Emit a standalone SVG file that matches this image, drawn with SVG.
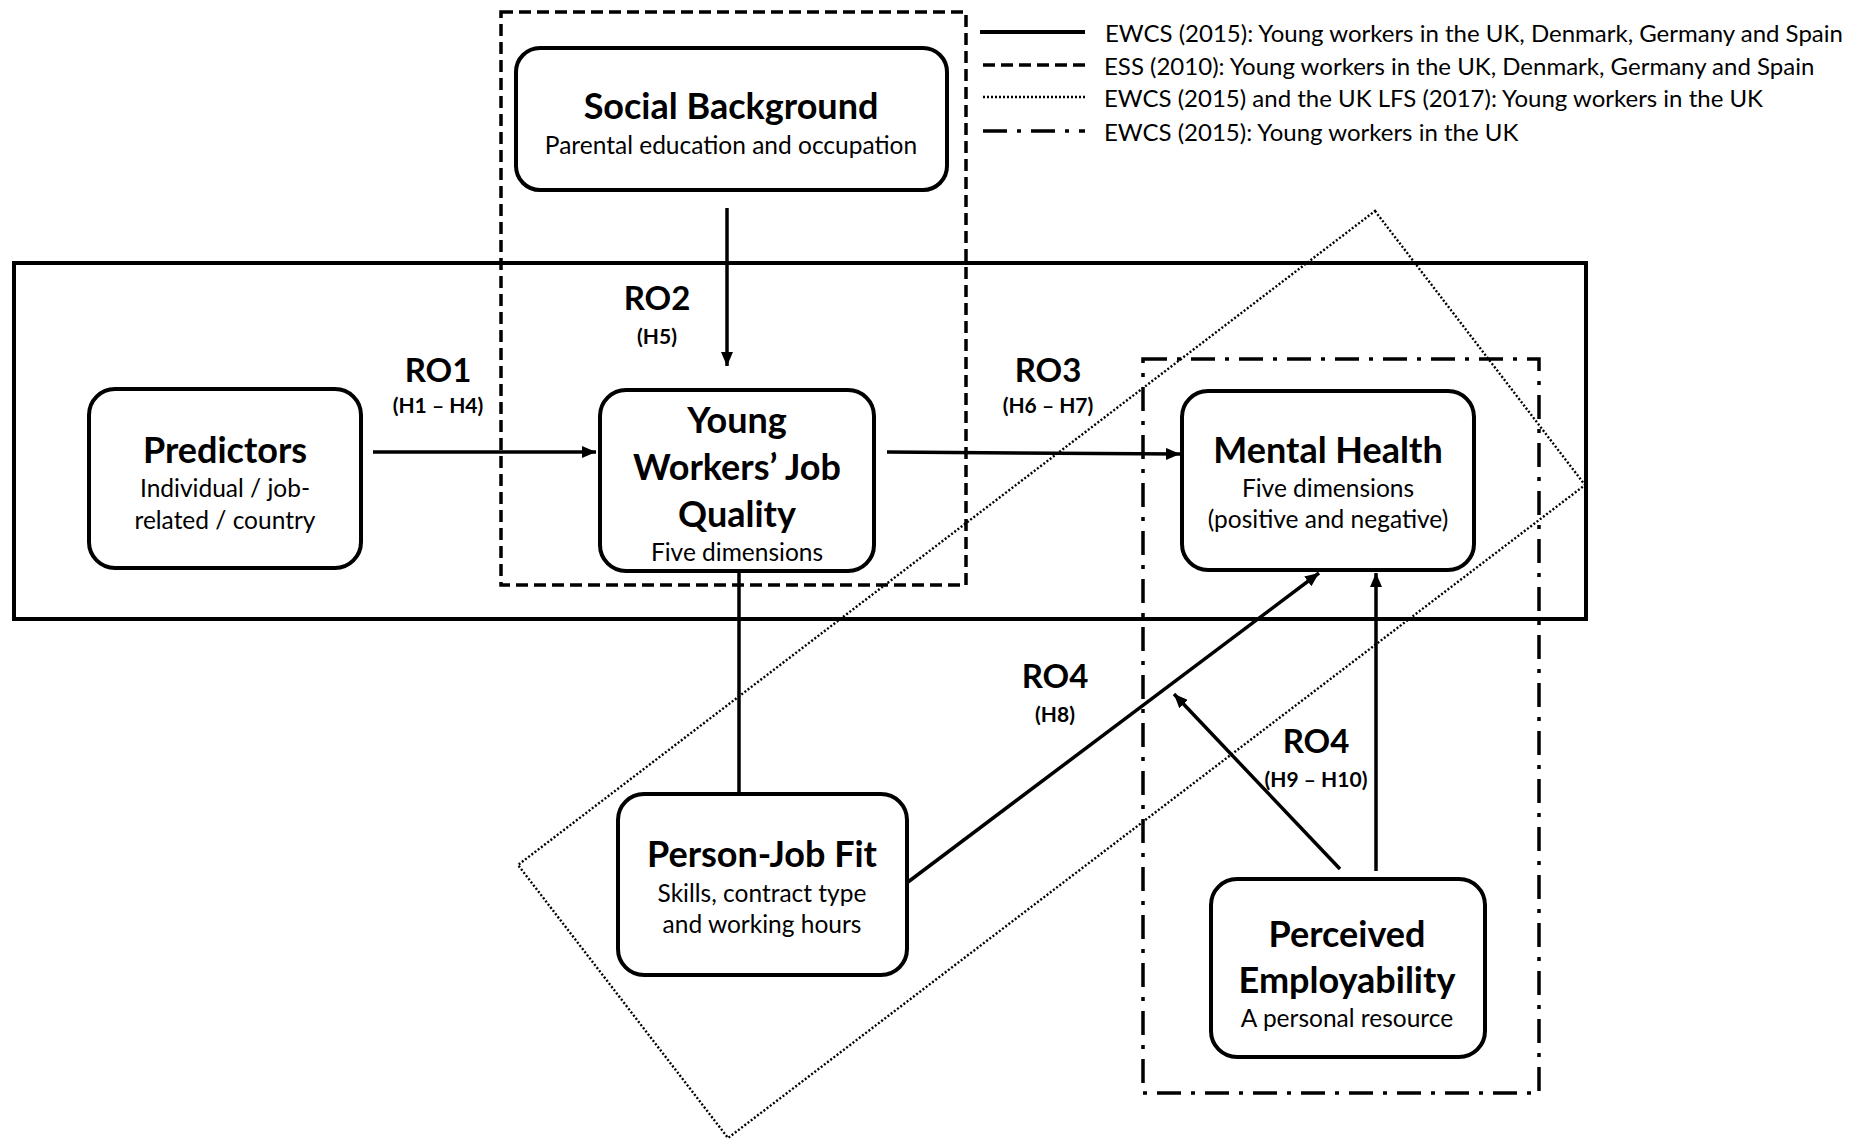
<svg xmlns="http://www.w3.org/2000/svg" width="1863" height="1141" viewBox="0 0 1863 1141">
<style>
.box{fill:#fff;stroke:#000;stroke-width:4}
.ttl{font-family:Lato,"Liberation Sans",sans-serif;font-weight:bold;font-size:36px;text-anchor:middle;dominant-baseline:central}
.sub{font-family:Lato,"Liberation Sans",sans-serif;font-size:24.5px;text-anchor:middle;dominant-baseline:central}
.ro{font-family:Lato,"Liberation Sans",sans-serif;font-weight:bold;font-size:33px;text-anchor:middle;dominant-baseline:central}
.h{font-family:Lato,"Liberation Sans",sans-serif;font-weight:bold;font-size:21px;text-anchor:middle;dominant-baseline:central}
.leg{font-family:Lato,"Liberation Sans",sans-serif;font-size:24px;dominant-baseline:central}
.arr{fill:none;stroke:#000;stroke-width:3.5}
.solid{fill:none;stroke:#000;stroke-width:4}
.dash{fill:none;stroke:#000;stroke-width:3.5;stroke-dasharray:12 6}
.dot{fill:none;stroke:#000;stroke-width:2.4;stroke-dasharray:2 2}
.dashdot{fill:none;stroke:#000;stroke-width:3.5;stroke-dasharray:24 10 4 10}
</style>
<defs>
<marker id="ah" markerUnits="userSpaceOnUse" markerWidth="14" markerHeight="12" refX="14" refY="6" orient="auto">
<path d="M0,0 L14,6 L0,12 z" fill="#000"/>
</marker>
</defs>
<rect width="1863" height="1141" fill="#fff"/>

<g id="legend">
<line class="solid" x1="980" y1="32" x2="1085" y2="32"/>
<text class="leg" x="1105" y="32">EWCS (2015): Young workers in the UK, Denmark, Germany and Spain</text>
<line class="dash" x1="983" y1="65" x2="1085" y2="65"/>
<text class="leg" x="1104" y="65">ESS (2010): Young workers in the UK, Denmark, Germany and Spain</text>
<line class="dot" x1="983" y1="97" x2="1085" y2="97" stroke-width="3"/>
<text class="leg" x="1104" y="97">EWCS (2015) and the UK LFS (2017): Young workers in the UK</text>
<line class="dashdot" x1="983" y1="131" x2="1085" y2="131" stroke-dasharray="4 10 24 10"/>
<text class="leg" x="1104" y="131">EWCS (2015): Young workers in the UK</text>
</g>

<g id="groups">
<rect id="ewcs-all" class="solid" x="14" y="263" width="1572" height="356"/>
<rect id="ess" class="dash" x="501" y="12" width="465" height="573"/>
<polygon id="ewcs-lfs" class="dot" points="1375,211 1585,485 728,1138 518,865"/>
<rect id="ewcs-uk" class="dashdot" x="1143" y="359" width="396" height="734"/>
</g>

<g id="connectors">
<line class="arr" x1="373" y1="452" x2="596" y2="452" marker-end="url(#ah)"/>
<line class="arr" x1="727" y1="208" x2="727" y2="366" marker-end="url(#ah)"/>
<line class="arr" x1="887" y1="452" x2="1180" y2="454" marker-end="url(#ah)"/>
<line class="arr" x1="739" y1="571" x2="739" y2="794" stroke-width="3"/>
<line class="arr" x1="908" y1="882" x2="1319" y2="573" marker-end="url(#ah)"/>
<line class="arr" x1="1340" y1="869" x2="1174" y2="694" marker-end="url(#ah)"/>
<line class="arr" x1="1376" y1="871" x2="1376" y2="573" marker-end="url(#ah)"/>
</g>

<g id="labels">
<text class="ro" x="438" y="369">RO1</text>
<text class="h" x="438" y="404">(H1 – H4)</text>
<text class="ro" x="657" y="297">RO2</text>
<text class="h" x="657" y="335">(H5)</text>
<text class="ro" x="1048" y="369">RO3</text>
<text class="h" x="1048" y="404">(H6 – H7)</text>
<text class="ro" x="1055" y="675">RO4</text>
<text class="h" x="1055" y="713">(H8)</text>
<text class="ro" x="1316" y="740">RO4</text>
<text class="h" x="1316" y="778">(H9 – H10)</text>
</g>

<g id="social-background">
<rect class="box" x="516" y="48" width="431" height="142" rx="24"/>
<text class="ttl" x="731" y="105">Social Background</text>
<text class="sub" x="731" y="144">Parental education and occupation</text>
</g>

<g id="predictors">
<rect class="box" x="89" y="389" width="272" height="179" rx="26"/>
<text class="ttl" x="225" y="449">Predictors</text>
<text class="sub" x="225" y="487">Individual / job-</text>
<text class="sub" x="225" y="519">related / country</text>
</g>

<g id="job-quality">
<rect class="box" x="600" y="390" width="274" height="181" rx="26"/>
<text class="ttl" x="737" y="419">Young</text>
<text class="ttl" x="737" y="466">Workers’ Job</text>
<text class="ttl" x="737" y="513">Quality</text>
<text class="sub" x="737" y="551">Five dimensions</text>
</g>

<g id="mental-health">
<rect class="box" x="1182" y="391" width="292" height="179" rx="26"/>
<text class="ttl" x="1328" y="449">Mental Health</text>
<text class="sub" x="1328" y="487">Five dimensions</text>
<text class="sub" x="1328" y="518">(positive and negative)</text>
</g>

<g id="person-job-fit">
<rect class="box" x="618" y="794" width="289" height="181" rx="26"/>
<text class="ttl" x="762" y="853">Person-Job Fit</text>
<text class="sub" x="762" y="892">Skills, contract type</text>
<text class="sub" x="762" y="923">and working hours</text>
</g>

<g id="perceived-employability">
<rect class="box" x="1211" y="879" width="274" height="178" rx="26"/>
<text class="ttl" x="1347" y="933">Perceived</text>
<text class="ttl" x="1347" y="979">Employability</text>
<text class="sub" x="1347" y="1017">A personal resource</text>
</g>
</svg>
